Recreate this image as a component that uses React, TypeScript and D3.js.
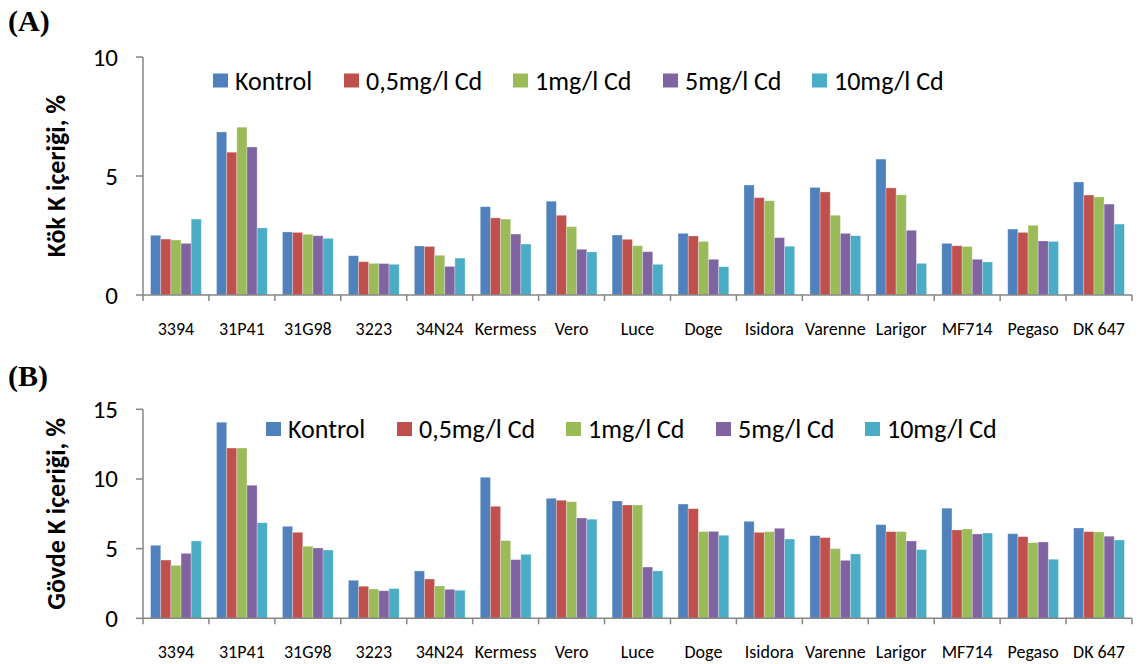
import React from "react";
import * as d3 from "d3";

const cultivars = ["3394", "31P41", "31G98", "3223", "34N24", "Kermess", "Vero", "Luce", "Doge", "Isidora", "Varenne", "Larigor", "MF714", "Pegaso", "DK 647"];
const seriesNames = ["Kontrol", "0,5mg/l Cd", "1mg/l Cd", "5mg/l Cd", "10mg/l Cd"];
const colors = ["#4F81BD", "#C0504D", "#9BBB59", "#8064A2", "#4BACC6"];

// (A) root K content, %
const rootKontrol = [2.51, 6.85, 2.65, 1.65, 2.06, 3.71, 3.94, 2.52, 2.59, 4.62, 4.52, 5.71, 2.17, 2.77, 4.75];
const root05 = [2.35, 6.0, 2.63, 1.4, 2.04, 3.24, 3.35, 2.34, 2.48, 4.09, 4.33, 4.5, 2.07, 2.63, 4.2];
const root1 = [2.31, 7.05, 2.55, 1.33, 1.67, 3.19, 2.87, 2.07, 2.25, 3.96, 3.35, 4.21, 2.04, 2.93, 4.12];
const root5 = [2.17, 6.22, 2.49, 1.32, 1.2, 2.56, 1.92, 1.82, 1.5, 2.41, 2.59, 2.72, 1.5, 2.27, 3.82];
const root10 = [3.19, 2.82, 2.38, 1.29, 1.55, 2.14, 1.81, 1.29, 1.19, 2.05, 2.49, 1.33, 1.39, 2.25, 2.98];

// (B) stem K content, %
const stemKontrol = [5.24, 14.07, 6.6, 2.73, 3.4, 10.12, 8.61, 8.42, 8.2, 6.96, 5.93, 6.72, 7.9, 6.07, 6.48];
const stem05 = [4.18, 12.22, 6.17, 2.3, 2.82, 8.04, 8.47, 8.13, 7.87, 6.17, 5.79, 6.22, 6.34, 5.86, 6.22];
const stem1 = [3.8, 12.22, 5.17, 2.1, 2.32, 5.57, 8.37, 8.13, 6.22, 6.22, 5.0, 6.22, 6.41, 5.43, 6.2];
const stem5 = [4.66, 9.55, 5.05, 1.98, 2.08, 4.21, 7.2, 3.68, 6.24, 6.46, 4.16, 5.55, 6.05, 5.48, 5.89];
const stem10 = [5.55, 6.86, 4.9, 2.13, 2.01, 4.59, 7.11, 3.4, 5.96, 5.69, 4.62, 4.93, 6.12, 4.24, 5.62];

const rootTicks = [0, 5, 10];
const stemTicks = [0, 5, 10, 15];

const FONT = "Carlito, Calibri, Lato, sans-serif";
const legendOffsets = [0, 131, 300, 450, 599];

type PanelProps = {
  tag: string;
  tagY: number;
  yLabel: string;
  series: number[][];
  ticks: number[];
  yTop: number;
  yBottom: number;
  legendX: number;
  legendY: number;
  labelY: number;
};

function Panel(props: PanelProps) {
  const { tag, tagY, yLabel, series, ticks, yTop, yBottom, legendX, legendY, labelY } = props;
  const left = 143;
  const right = 1132;

  const x = d3.scaleBand<string>().domain(cultivars).range([left, right]).padding(0);
  const xInner = d3
    .scaleBand<string>()
    .domain(seriesNames)
    .range([0, x.bandwidth()])
    .paddingInner(0)
    .paddingOuter(0.75);
  const y = d3
    .scaleLinear()
    .domain([0, ticks[ticks.length - 1]])
    .range([yBottom, yTop]);

  const boundaries = cultivars.map((c) => x(c) as number).concat([right]);

  return (
    <g>
      <text x={8} y={tagY} fontFamily="'Liberation Serif', 'Times New Roman', serif" fontWeight="bold" fontSize={30}>
        {tag}
      </text>

      {series.map((vals, si) =>
        vals.map((v, ci) => (
          <rect
            key={`${si}-${ci}`}
            x={(x(cultivars[ci]) as number) + (xInner(seriesNames[si]) as number)}
            y={y(v)}
            width={xInner.bandwidth()}
            height={y(0) - y(v)}
            fill={colors[si]}
            stroke="#ffffff"
            strokeOpacity={0.35}
            strokeWidth={0.8}
          />
        ))
      )}

      {/* y axis */}
      <line x1={left} x2={left} y1={yTop} y2={yBottom} stroke="#868686" strokeWidth={1.5} />
      {ticks.map((t) => (
        <g key={t}>
          <line x1={left - 7} x2={left} y1={y(t)} y2={y(t)} stroke="#868686" strokeWidth={1.5} />
          <text x={118} y={y(t)} textAnchor="end" dominantBaseline="central" fontFamily={FONT} fontSize={25}>
            {t}
          </text>
        </g>
      ))}

      {/* x axis */}
      <line x1={left} x2={right} y1={yBottom} y2={yBottom} stroke="#868686" strokeWidth={1.5} />
      {boundaries.map((bx, i) => (
        <line key={i} x1={bx} x2={bx} y1={yBottom} y2={yBottom + 6} stroke="#868686" strokeWidth={1.5} />
      ))}
      {cultivars.map((c) => (
        <text
          key={c}
          x={(x(c) as number) + x.bandwidth() / 2}
          y={labelY}
          textAnchor="middle"
          dominantBaseline="central"
          fontFamily={FONT}
          fontSize={18}
        >
          {c}
        </text>
      ))}

      <text
        transform={`translate(56,${(yTop + yBottom) / 2}) rotate(-90)`}
        textAnchor="middle"
        dominantBaseline="central"
        fontFamily={FONT}
        fontWeight="bold"
        fontSize={26}
      >
        {yLabel}
      </text>

      {/* legend */}
      {seriesNames.map((name, i) => (
        <g key={name} transform={`translate(${legendX + legendOffsets[i]},${legendY})`}>
          <rect x={0} y={-7} width={15} height={14} fill={colors[i]} />
          <text x={22} y={0} dominantBaseline="central" fontFamily={FONT} fontSize={26}>
            {name}
          </text>
        </g>
      ))}
    </g>
  );
}

export default function App() {
  return (
    <div style={{ position: "absolute", left: 0, top: 0 }}>
      <svg width={1138} height={664} style={{ display: "block", background: "#fff" }}>
        <Panel
          tag="(A)"
          tagY={31}
          yLabel="Kök K içeriği, %"
          series={[rootKontrol, root05, root1, root5, root10]}
          ticks={rootTicks}
          yTop={57}
          yBottom={295}
          legendX={213}
          legendY={80.5}
          labelY={329}
        />
        <Panel
          tag="(B)"
          tagY={386}
          yLabel="Gövde K içeriği, %"
          series={[stemKontrol, stem05, stem1, stem5, stem10]}
          ticks={stemTicks}
          yTop={409.3}
          yBottom={618.3}
          legendX={266}
          legendY={429}
          labelY={652}
        />
      </svg>
    </div>
  );
}
